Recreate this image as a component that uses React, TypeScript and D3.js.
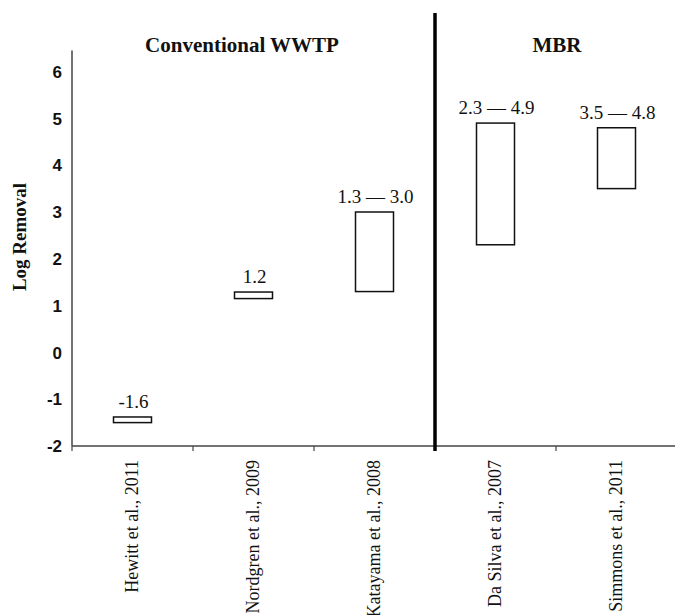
import React from "react";
import * as d3 from "d3";

const studies = [
  "Hewitt et al., 2011",
  "Nordgren et al., 2009",
  "Katayama et al., 2008",
  "Da Silva et al., 2007",
  "Simmons et al., 2011",
];
const lowValues = [-1.5, 1.15, 1.3, 2.3, 3.5];
const highValues = [-1.38, 1.29, 3.0, 4.9, 4.8];
const rangeLabels = ["-1.6", "1.2", "1.3 \u2014 3.0", "2.3 \u2014 4.9", "3.5 \u2014 4.8"];
const groupNames = ["Conventional WWTP", "MBR"];
const groupCenters = [242, 557];
const yTicks = [-2, -1, 0, 1, 2, 3, 4, 5, 6];

const width = 675;
const height = 615;
const serif = "'Liberation Serif', 'Times New Roman', serif";
const sans = "'Liberation Sans', Arial, sans-serif";

export default function App() {
  const x = d3.scaleBand<string>().domain(studies).range([72, 72 + 5 * 121]).padding(0);
  const y = d3.scaleLinear().domain([-2, 6.45]).range([446, 446 - 8.45 * 46.8]);
  const boxW = 38;
  const bottom = y(-2);
  // tick marks sit on the band edges
  const boundaries = studies
    .map((s) => x(s) as number)
    .concat([(x(studies[4]) as number) + x.bandwidth()]);
  const dividerX = x(studies[3]) as number;

  return (
    <svg
      width={width}
      height={height}
      style={{ position: "absolute", left: 0, top: 0, background: "#fff" }}
    >
      {/* y axis */}
      <line x1={72} x2={72} y1={y(6.45)} y2={bottom} stroke="#444" strokeWidth={1.5} />
      {yTicks.map((t) => (
        <text
          key={t}
          x={62}
          y={y(t)}
          dy="0.36em"
          textAnchor="end"
          fontFamily={sans}
          fontWeight="bold"
          fontSize={17}
          fill="#111"
        >
          {t}
        </text>
      ))}
      <text
        transform={`translate(26, 237) rotate(-90)`}
        textAnchor="middle"
        fontFamily={serif}
        fontWeight="bold"
        fontSize={19}
        fill="#111"
      >
        Log Removal
      </text>

      {/* x axis */}
      <line x1={72} x2={width} y1={bottom} y2={bottom} stroke="#444" strokeWidth={1.5} />
      {boundaries.map((b, i) => (
        <line key={i} x1={b} x2={b} y1={bottom} y2={bottom + 5} stroke="#444" strokeWidth={1.2} />
      ))}
      {studies.map((s) => {
        const cx = (x(s) as number) + x.bandwidth() / 2;
        return (
          <text
            key={s}
            transform={`translate(${cx - 1}, 460) rotate(-90)`}
            textAnchor="end"
            dy="0.35em"
            fontFamily={serif}
            fontSize={18}
            fill="#111"
          >
            {s}
          </text>
        );
      })}

      {/* divider between groups */}
      <line x1={dividerX} x2={dividerX} y1={13} y2={bottom + 5} stroke="#000" strokeWidth={3.5} />
      {groupNames.map((g, i) => (
        <text
          key={g}
          x={groupCenters[i]}
          y={52}
          textAnchor="middle"
          fontFamily={serif}
          fontWeight="bold"
          fontSize={21}
          fill="#111"
        >
          {g}
        </text>
      ))}

      {/* range boxes */}
      {studies.map((s, i) => {
        const cx = (x(s) as number) + x.bandwidth() / 2;
        const top = y(highValues[i]);
        const bot = y(lowValues[i]);
        return (
          <g key={s}>
            <rect
              x={cx - boxW / 2}
              y={top}
              width={boxW}
              height={bot - top}
              fill="#fff"
              stroke="#111"
              strokeWidth={1.5}
            />
            <text
              x={cx + 1}
              y={top - 9}
              textAnchor="middle"
              fontFamily={serif}
              fontSize={19}
              fill="#111"
            >
              {rangeLabels[i]}
            </text>
          </g>
        );
      })}
    </svg>
  );
}
